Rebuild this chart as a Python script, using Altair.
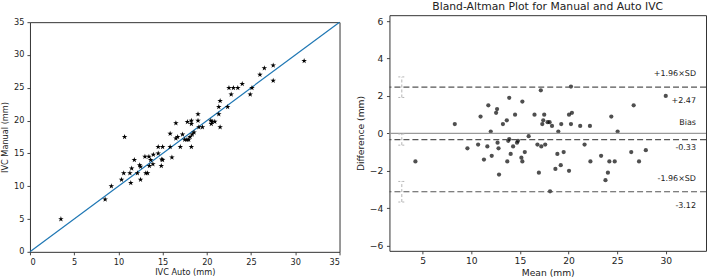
import math
import altair as alt
import pandas as pd

# ---------------- data ----------------
# Left: IVC Auto vs IVC Manual (mm)
auto_x = [3.5, 8.5, 9.2, 10.7, 10.35, 10.6, 11.4, 11.5, 11.8, 11.3, 12.15, 12.4, 12.5, 12.5,
          13.0, 13.1, 13.3, 13.45, 13.5, 13.65, 13.9, 13.95, 14.5, 14.5, 14.9, 15.0, 14.85, 15.0,
          15.85, 15.85, 16.05, 16.5, 16.5, 16.7, 17.0, 17.25, 17.5, 17.75, 17.8, 17.95, 18.1,
          18.25, 18.25, 18.25, 18.35, 18.55, 19.0, 19.0, 19.1, 19.5, 20.45, 20.5, 20.6, 20.9,
          21.35, 21.35, 21.5, 21.5, 22.35, 22.5, 22.75, 23.0, 23.5, 24.0, 24.9, 25.1, 26.0,
          26.5, 27.5, 27.5, 31.0]
manual_y = [5.0, 8.0, 10.0, 17.5, 11.0, 12.0, 10.5, 12.7, 14.0, 12.0, 12.0, 13.2, 13.0, 11.0,
            14.5, 12.0, 12.0, 14.5, 13.1, 14.0, 13.35, 14.8, 16.0, 15.0, 14.1, 16.0, 13.1, 14.0,
            18.0, 16.0, 14.4, 19.6, 17.3, 17.5, 16.0, 17.9, 17.1, 17.1, 19.8, 17.1, 17.5,
            20.0, 16.0, 19.5, 17.9, 18.2, 21.0, 20.0, 19.0, 19.0, 20.0, 19.5, 19.85, 19.85,
            22.1, 21.0, 23.0, 19.0, 22.1, 25.0, 24.0, 25.0, 25.0, 25.6, 24.0, 25.0, 27.0,
            28.0, 28.4, 26.1, 29.1]
identity_x = [0, 35]
identity_y = [0, 35]

# Right: Bland-Altman mean vs difference (mm)
ba_mean = [4.25, 8.3, 9.6, 10.7, 10.95, 11.3, 11.65, 11.75, 12.0, 12.1, 12.55, 12.65, 12.7, 12.8,
           12.85, 13.25, 13.65, 13.7, 13.8, 13.9, 13.9, 14.05, 14.3, 14.5, 14.7, 14.8, 15.15,
           15.25, 15.25, 15.5, 15.9, 16.5, 16.8, 16.95, 17.15, 17.2, 17.3, 17.4, 17.5, 17.6,
           17.85, 18.05, 18.1, 18.3, 18.65, 18.85, 18.95, 19.2, 19.25, 19.5, 20.05, 20.05, 20.25,
           20.25, 20.35, 21.2, 21.65, 22.2, 22.25, 23.35, 23.8, 24.05, 24.2, 24.4, 24.75, 25.05,
           26.45, 26.7, 27.25, 27.95, 30.0]
ba_diff = [-1.5, 0.5, -0.8, -0.6, 0.9, -1.4, -0.7, 1.5, 0.1, -1.2, 1.1, 1.3, -0.5, -0.8,
           -2.2, 0.5, 0.7, -1.5, -0.4, -0.3, 1.9, -1.1, -0.7, 1.0, -0.5, -0.4, -1.3,
           -1.5, 1.7, -1.0, -0.15, 1.0, -0.6, -2.1, 2.3, -0.7, 0.5, 0.7, 1.0, -0.6,
           0.6, 0.6, -3.1, 0.4, -1.9, -1.1, 0.1, -1.7, 0.5, -1.0, 1.0, -2.0, 2.5,
           0.5, 1.1, 0.4, -0.6, 0.4, -1.5, -1.2, -2.5, -2.1, -1.5, 0.9, -1.5, 0.1,
           -1.0, 1.5, -1.5, -0.9, 2.0]

limit_values = [2.47, -0.33, -3.12]          # +1.96 SD, bias, -1.96 SD
zero_value = [0.0]
ci_x = [2.85, 2.85, 2.85]
ci_lo = [1.92, -0.63, -3.67]
ci_hi = [3.02, -0.03, -2.57]
ann_text = ["+1.96×SD", "+2.47", "Bias", "-0.33", "-1.96×SD", "-3.12"]
ann_y = [3.18, 1.72, 0.55, -0.79, -2.43, -3.88]

left_ticks = [0, 5, 10, 15, 20, 25, 30, 35]
right_xticks = [5, 10, 15, 20, 25, 30]
right_yticks = [-6, -4, -2, 0, 2, 4, 6]

FONT = "DejaVu Sans"
TXT = "#222222"
FRAME = "#333333"

# ---------------- left chart ----------------
scatter_df = pd.DataFrame({"auto": auto_x, "manual": manual_y})
ident_df = pd.DataFrame({"auto": identity_x, "manual": identity_y})

star_pts = []
for k in range(10):
    r = 1.0 if k % 2 == 0 else 0.382
    a = math.radians(-90 + 36 * k)
    star_pts.append(f"{r*math.cos(a):.3f},{r*math.sin(a):.3f}")
STAR = "M" + " L".join(star_pts) + " Z"

LFS = 8.2
lxs = alt.Scale(domain=[0, 35], nice=False)
lys = alt.Scale(domain=[0, 35], nice=False)
lx_axis = alt.Axis(values=left_ticks, labelPadding=3.5, titlePadding=3.4, labelOverlap=False,
                   labelFontSize=LFS, titleFontSize=LFS)
ly_axis = alt.Axis(values=left_ticks, labelPadding=3, titlePadding=4, labelOverlap=False,
                   labelFontSize=LFS, titleFontSize=LFS)
xl = alt.X("auto:Q", title="IVC Auto (mm)", scale=lxs, axis=lx_axis)
yl = alt.Y("manual:Q", title="IVC Manual (mm)", scale=lys, axis=ly_axis)

ident = alt.Chart(ident_df).mark_line(color="#1f77b4", strokeWidth=1.2).encode(x=xl, y=yl)
stars = alt.Chart(scatter_df).mark_point(
    shape=STAR, filled=True, color="black", size=34, opacity=1
).encode(x=xl, y=yl)

left = alt.layer(ident, stars).properties(width=310, height=230)

spacer = alt.Chart(pd.DataFrame({"t": [0]})).mark_rule(opacity=0).encode(
    x=alt.value(0), x2=alt.value(0), y=alt.value(0)
).properties(width=310, height=1, view=alt.ViewBackground(stroke="transparent"))

left_col = alt.vconcat(spacer, left, spacing=-1)

# ---------------- right chart ----------------
ba_df = pd.DataFrame({"mean": ba_mean, "diff": ba_diff})
lim_df = pd.DataFrame({"diff": limit_values})
zero_df = pd.DataFrame({"diff": zero_value})
ci_df = pd.DataFrame({"mean": ci_x, "diff": ci_lo, "hi": ci_hi})
ann_df = pd.DataFrame({"t": ann_text, "diff": ann_y})

RFS = 9.2
xs = alt.Scale(domain=[1.58, 34.14], nice=False)
ys = alt.Scale(domain=[-6.28, 6.32], nice=False)
rx_axis = alt.Axis(values=right_xticks, labelPadding=2.8, titlePadding=2.4, labelOverlap=False,
                   labelFontSize=RFS, titleFontSize=RFS)
ry_axis = alt.Axis(values=right_yticks, labelPadding=3.7, titlePadding=3.3, labelOverlap=False,
                   labelFontSize=RFS, titleFontSize=RFS)
xr = alt.X("mean:Q", title="Mean (mm)", scale=xs, axis=rx_axis)
yr = alt.Y("diff:Q", title="Difference (mm)", scale=ys, axis=ry_axis)

pts = alt.Chart(ba_df).mark_circle(color="black", opacity=0.69, size=18).encode(x=xr, y=yr)

zero_rule = alt.Chart(zero_df).mark_rule(color="#9a9a9a", strokeWidth=1.1).encode(y=yr)
lim_rules = alt.Chart(lim_df).mark_rule(
    color="#555555", strokeWidth=1.2, strokeDash=[6, 3]
).encode(y=yr)

ci_rule = alt.Chart(ci_df).mark_rule(
    color="#b5b5b5", strokeWidth=1, strokeDash=[3, 2]
).encode(x=xr, y=yr, y2="hi:Q")
ci_cap_lo = alt.Chart(ci_df).mark_rule(
    color="#b5b5b5", strokeWidth=1, strokeDash=[2, 2], xOffset=-3.5, x2Offset=3.5
).encode(x=xr, x2="mean:Q", y=yr)
ci_cap_hi = alt.Chart(ci_df).mark_rule(
    color="#b5b5b5", strokeWidth=1, strokeDash=[2, 2], xOffset=-3.5, x2Offset=3.5
).encode(x=xr, x2="mean:Q", y=alt.Y("hi:Q", title="Difference (mm)", scale=ys, axis=ry_axis))

ann = alt.Chart(ann_df).mark_text(
    align="right", baseline="middle", font=FONT, fontSize=8, color=TXT
).encode(x=alt.value(307), y=yr, text="t:N")

right = alt.layer(pts, zero_rule, lim_rules, ci_rule, ci_cap_lo, ci_cap_hi, ann).properties(
    width=317, height=236,
    title=alt.TitleParams("Bland-Altman Plot for Manual and Auto IVC", fontSize=10.8,
                          font=FONT, fontWeight="normal", color=TXT, offset=3.5,
                          anchor="middle"),
)

chart = alt.hconcat(left_col, right, spacing=13).properties(
    padding={"left": 0, "top": 0, "right": 0, "bottom": 0}
).configure_view(stroke=FRAME, strokeWidth=1).configure_axis(
    grid=False, domain=False, tickColor=FRAME, tickSize=3, tickWidth=0.9,
    labelFont=FONT, labelColor=TXT, labelOverlap=False,
    titleFont=FONT, titleFontWeight="normal", titleColor=TXT,
)

chart.save("out.html", embed_options={"renderer": "svg", "actions": False})
